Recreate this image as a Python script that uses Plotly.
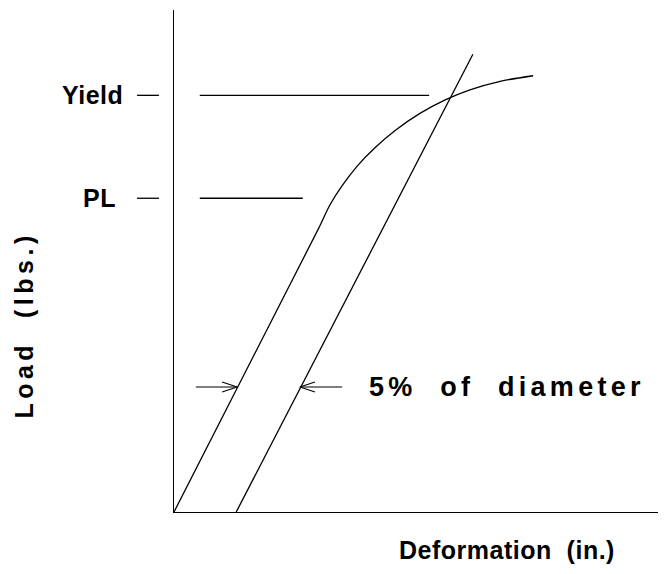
import plotly.graph_objects as go

# ---- data (arbitrary units) ----
curve_x = [0.0, 29.6, 32.1, 34.6, 37.7, 41.4, 45.5, 50.6, 55.8, 60.9, 67.1, 73.9]
curve_y = [0.0, 56.2, 61.2, 65.0, 68.9, 72.6, 76.0, 79.4, 82.1, 84.1, 85.8, 86.9]

offset_x = [12.8, 61.5]
offset_y = [0.0, 91.2]

yield_load = 83.0
yield_line_x = [5.3, 52.5]
pl_load = 62.5
pl_line_x = [5.3, 26.5]

arrow_y = 24.9
arrow_left_x = [4.5, 13.0]    # tail, tip
arrow_right_x = [34.6, 25.9]  # tail, tip

tick_x = [-7.6, -3.1]
level_labels = ["Yield", "PL"]
level_values = [yield_load, pl_load]

x_title = "Deformation\u00a0\u00a0(in.)"
y_title = "Load\u00a0\u00a0(lbs.)"
note_text = "5%\u00a0\u00a0of\u00a0\u00a0diameter"

XR = [0, 100]
YR = [0, 100]

FONT = "Liberation Sans, Arial, sans-serif"
FS = 25

def sp(t, ls):
    return f'<b><span style="letter-spacing:{ls}px">{t}</span></b>'

def px_(v):
    return (v - XR[0]) / (XR[1] - XR[0])

def py_(v):
    return (v - YR[0]) / (YR[1] - YR[0])

LW = 1.3
fig = go.Figure()

fig.add_trace(go.Scatter(x=curve_x, y=curve_y, mode="lines",
                         line=dict(color="black", width=LW, shape="spline", smoothing=0.8),
                         hoverinfo="skip"))
fig.add_trace(go.Scatter(x=offset_x, y=offset_y, mode="lines",
                         line=dict(color="black", width=LW), hoverinfo="skip"))
fig.add_trace(go.Scatter(x=yield_line_x, y=[yield_load] * 2, mode="lines",
                         line=dict(color="black", width=LW), hoverinfo="skip"))
fig.add_trace(go.Scatter(x=pl_line_x, y=[pl_load] * 2, mode="lines",
                         line=dict(color="black", width=LW), hoverinfo="skip"))

# arrows (shaft + open V head)
HL, HW = 3.1, 1.0
for tail, tip in (arrow_left_x, arrow_right_x):
    d = 1 if tip > tail else -1
    fig.add_trace(go.Scatter(x=[tail, tip], y=[arrow_y, arrow_y], mode="lines",
                             line=dict(color="black", width=1.1), hoverinfo="skip"))
    fig.add_trace(go.Scatter(x=[tip - d * HL, tip, tip - d * HL],
                             y=[arrow_y + HW, arrow_y, arrow_y - HW], mode="lines",
                             line=dict(color="black", width=1.1), hoverinfo="skip"))

shapes = []
annotations = []
label_right = [-0.101, -0.115]
for lab, val, xr in zip(level_labels, level_values, label_right):
    shapes.append(dict(type="line", xref="paper", yref="paper",
                       x0=px_(tick_x[0]), x1=px_(tick_x[1]), y0=py_(val), y1=py_(val),
                       line=dict(color="black", width=LW)))
    annotations.append(dict(xref="paper", yref="paper", x=xr, y=py_(val),
                            text=sp(lab, 0.5), showarrow=False, xanchor="right", yanchor="middle",
                            font=dict(family=FONT, size=FS, color="black")))

annotations.append(dict(xref="x", yref="y", x=39.7, y=arrow_y, text=sp(note_text, 4.3),
                        showarrow=False, xanchor="left", yanchor="middle",
                        font=dict(family=FONT, size=27, color="black")))
annotations.append(dict(xref="paper", yref="paper", x=0.686, y=-0.0757, text=sp(x_title, 0.5),
                        showarrow=False, xanchor="center", yanchor="middle",
                        font=dict(family=FONT, size=FS, color="black")))
annotations.append(dict(xref="paper", yref="paper", x=-0.309, y=0.373, text=sp(y_title, 4.5),
                        showarrow=False, xanchor="center", yanchor="middle", textangle=-90,
                        font=dict(family=FONT, size=FS, color="black")))

fig.update_layout(
    width=658, height=566,
    margin=dict(l=166, r=6, t=2, b=62),
    paper_bgcolor="white", plot_bgcolor="white",
    showlegend=False,
    shapes=shapes, annotations=annotations,
    xaxis=dict(range=XR, showgrid=False, zeroline=False, showticklabels=False, ticks="",
               showline=True, linecolor="black", linewidth=1.2),
    yaxis=dict(range=YR, showgrid=False, zeroline=False, showticklabels=False, ticks="",
               showline=True, linecolor="black", linewidth=1.2),
)

fig.write_html("out.html")
